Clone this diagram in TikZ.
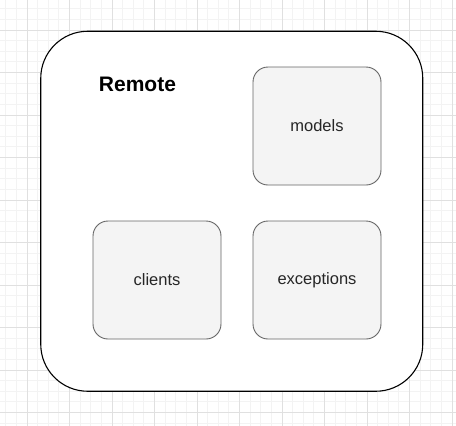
\documentclass[tikz,border=0pt]{standalone}
\usepackage{fontspec}
\setmainfont{Liberation Sans}
\definecolor{gridminor}{HTML}{F3F3F3}
\definecolor{gridmajor}{HTML}{E0E0E0}
\definecolor{boxfill}{HTML}{F4F4F4}
\definecolor{boxline}{HTML}{666666}
\tikzset{
  pkg/.style={draw=boxline, fill=boxfill, line width=0.9pt, rounded corners=15pt,
    minimum width=128pt, minimum height=118pt, inner sep=0pt,
    font=\fontsize{16.5}{20}\selectfont, text=black!85},
  outer/.style={draw=black, fill=white, line width=1.1pt, rounded corners=47pt,
    minimum width=382pt, minimum height=360pt, inner sep=0pt},
}
\begin{document}
\begin{tikzpicture}[x=1pt,y=-1pt]
\useasboundingbox (0,0) rectangle (456,426);
\fill[white] (0,0) rectangle (456,426);
% grid
\foreach \i in {0,...,43} {
  \draw[gridminor, line width=0.8pt] ({5.75+10.625*\i},0) -- ({5.75+10.625*\i},426);
  \draw[gridminor, line width=0.8pt] (0,{8.75+10.625*\i}) -- (456,{8.75+10.625*\i});
}
\foreach \i in {0,...,10} {
  \draw[gridmajor, line width=0.9pt] ({27+42.5*\i},0) -- ({27+42.5*\i},426);
  \draw[gridmajor, line width=0.9pt] (0,{30+42.5*\i}) -- (456,{30+42.5*\i});
}
\node[outer] (remote) at (231.75,211.25) {};
\node[font=\fontsize{21}{25}\selectfont\bfseries, anchor=base] (title) at (137.5,91) {Remote};
\node[pkg] (models) at (317,126) {\raisebox{-1.5pt}{models}};
\node[pkg] (clients) at (157,280) {\raisebox{-1.5pt}{clients}};
\node[pkg] (exceptions) at (317,280) {\raisebox{-1.5pt}{exceptions}};
\end{tikzpicture}
\end{document}
